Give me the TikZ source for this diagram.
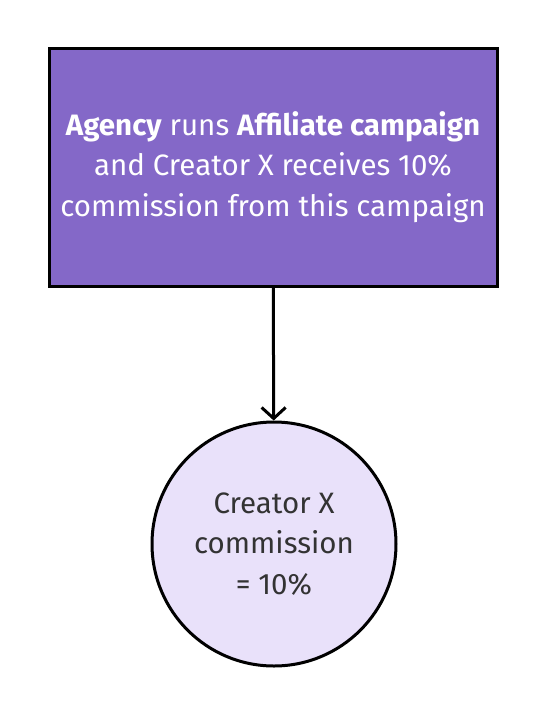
\documentclass[tikz,border=0pt]{standalone}
\usepackage{fontspec}
\setmainfont{Fira Sans}
\usetikzlibrary{arrows.meta,positioning}
\definecolor{boxpurple}{HTML}{8468C8}
\definecolor{circlelilac}{HTML}{E9E1FA}
\definecolor{darktext}{HTML}{333333}

\begin{document}
\begin{tikzpicture}[x=1pt,y=-1pt,>={Straight Barb[length=11pt,width=24pt]}]
\useasboundingbox (0,0) rectangle (548,716);
\tikzset{campaignbox/.style={draw=black,line width=3pt,fill=boxpurple,minimum width=448pt,minimum height=238pt,
    text=white,align=center,font=\fontsize{29.5}{40.5}\selectfont},
  resultcircle/.style={circle,draw=black,line width=3pt,fill=circlelilac,minimum size=244pt,
    text=darktext,align=center,font=\fontsize{29.5}{40.5}\selectfont,inner sep=0pt}}
\node[campaignbox] (agency) at (273,167) {\textbf{Agency} runs \textbf{Affiliate campaign}\\ and Creator X receives 10\%\\ commission from this campaign};
\node[resultcircle] (creator) at (274,544) {Creator X\\ commission\\ = 10\%};
\draw[->,line width=3pt] (agency) -- (creator);
\end{tikzpicture}
\end{document}
